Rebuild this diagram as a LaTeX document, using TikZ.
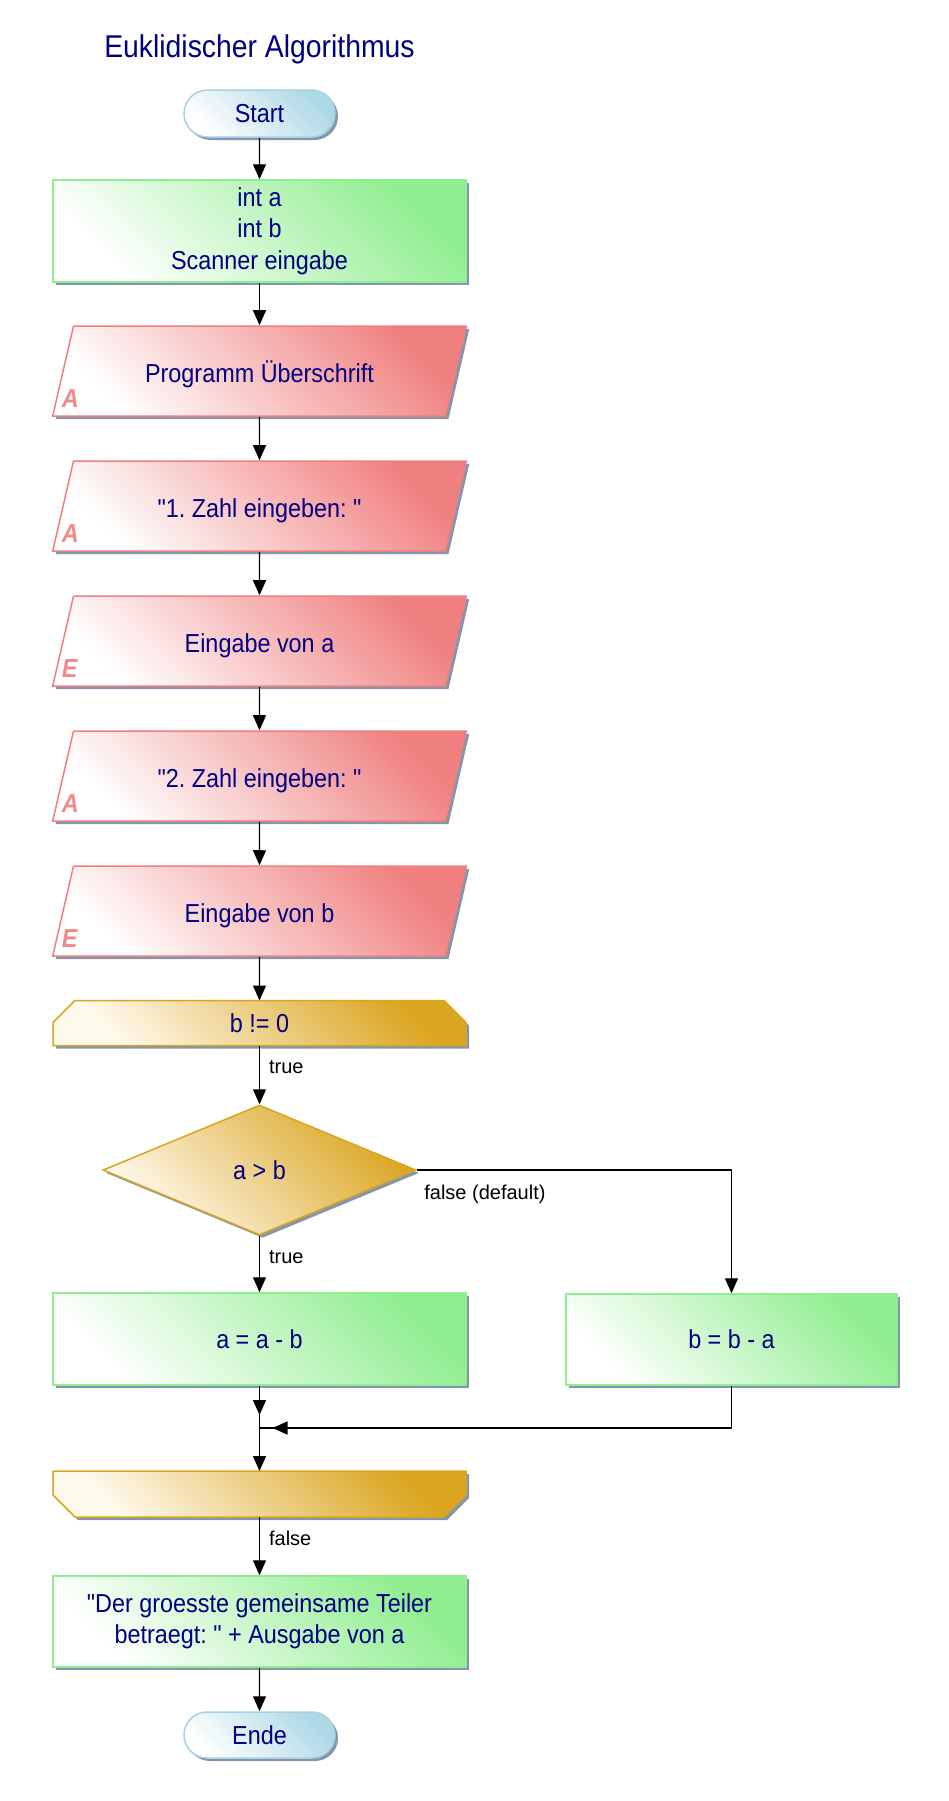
\documentclass[tikz,border=0pt]{standalone}
\usepackage{fontspec}
\setmainfont{Liberation Sans}[FakeStretch=0.9, Ligatures=TeXOff]
\newfontfamily\labelfont{Liberation Sans}[Ligatures=TeXOff]
\usepackage{tikz}
\usetikzlibrary{shapes.geometric, shapes.misc, shadows, arrows.meta, backgrounds}
\frenchspacing
\definecolor{txtblue}{HTML}{000080}
\definecolor{termfill}{HTML}{ADD8E6}
\definecolor{termline}{HTML}{A4D2E2}
\definecolor{procfill}{HTML}{90EE90}
\definecolor{iofill}{HTML}{F08080}
\definecolor{iotagcol}{HTML}{F08A8A}
\definecolor{loopfill}{HTML}{DAA520}
\definecolor{looplight}{HTML}{FFFAEE}
\definecolor{shadowcol}{HTML}{8496AC}
\newcommand{\boxfont}{\fontsize{26}{31.5}\selectfont}
\newcommand{\tagfont}{\fontsize{20}{24}\labelfont}

\tikzset{
  boxshadow/.style={drop shadow={shadow xshift=3pt, shadow yshift=-3pt, fill=shadowcol, opacity=1}},
  shapebase/.style={draw, line width=1.5pt, text=txtblue, font=\boxfont, align=center, inner sep=0pt, boxshadow},
  terminal/.style={shapebase, rounded rectangle, draw=termline, top color=white, bottom color=termfill,
    shading angle=135, minimum width=151pt, minimum height=47pt},
  process/.style={shapebase, rectangle, draw=procfill, top color=white, bottom color=procfill,
    shading angle=135, minimum width=413pt},
  inout/.style={shapebase, trapezium, trapezium left angle=77, trapezium right angle=103,
    draw=iofill, top color=white, bottom color=iofill, shading angle=135, align=flush center,
    text width=350pt, text height=26pt, text depth=4pt, inner xsep=11pt, inner ysep=30pt},
  whilenode/.style={rectangle, text=txtblue, font=\boxfont, inner sep=0pt, outer sep=0pt,
    minimum width=413pt, minimum height=45pt},
  loopshape/.style={draw=loopfill, line width=1.5pt, top color=looplight, bottom color=loopfill,
    shading angle=135, boxshadow},
  decision/.style={shapebase, diamond, aspect=2.4, draw=loopfill, top color=looplight,
    bottom color=loopfill, shading angle=135, minimum width=313pt, minimum height=130pt},
  iotag/.style={font=\fontsize{26}{30}\selectfont\bfseries\itshape, text=iotagcol, inner sep=0pt},
  caselabel/.style={font=\tagfont, text=black, anchor=west, inner sep=0pt, xshift=9pt},
  heading/.style={font=\fontsize{31.5}{37}\selectfont, text=txtblue, inner sep=0pt},
  flow/.style={line width=1.2pt, -{Triangle[length=15pt, width=13pt]}},
  tipbefore/.style={line width=1.2pt, postaction={draw, flow, shorten >=13pt}}
}

\begin{document}
\begin{tikzpicture}[x=1pt, y=-1pt]
    \useasboundingbox (0,0) rectangle (948,1801);
    \node[heading, anchor=base] (title) at (259.5, 58) {Euklidischer Algorithmus};
    \node[terminal] (start) at (259.5, 113.5) {Start};
    \node[process, minimum height=102pt] (decl) at (259.5, 231) {int a\\int b\\Scanner eingabe};
    \foreach \name/\ypos/\txt/\tag in {io1/371/Programm Überschrift/A, io2/506/"1. Zahl eingeben: "/A,
        io3/641/Eingabe von a/E, io4/776/"2. Zahl eingeben: "/A, io5/911/Eingabe von b/E} {
        \node[inout] (\name) at (259.5, \ypos) {\txt};
        \node[iotag, anchor=base west] at ([xshift=10pt, yshift=9pt]\name.bottom left corner) {\tag};
    }
    \node[whilenode] (whilestart) at (259.5, 1023) {b != 0};
    \node[decision] (cmp) at (259.5, 1170) {a > b};
    \node[process, minimum height=92pt] (aminusb) at (259.5, 1339) {a = a - b};
    \node[process, minimum width=331pt, minimum height=91pt] (bminusa) at (731.5, 1339.5) {b = b - a};
    \coordinate (merge) at (259.5, 1428);
    \node[whilenode, minimum height=46pt] (whileend) at (259.5, 1494) {};
    \node[process, minimum height=91pt] (output) at (259.5, 1621.5) {"Der groesste gemeinsame Teiler\\betraegt: " + Ausgabe von a};
    \node[terminal, minimum height=46pt] (ende) at (259.5, 1735) {Ende};

    % loop head and loop foot
    \begin{scope}[on background layer]
        \path[loopshape] (whilestart.south west) -- ([yshift=-22pt]whilestart.north west)
            -- ([xshift=22pt]whilestart.north west) -- ([xshift=-22pt]whilestart.north east)
            -- ([yshift=-22pt]whilestart.north east) -- (whilestart.south east) -- cycle;
        \path[loopshape] (whileend.north west) -- ([yshift=22pt]whileend.south west)
            -- ([xshift=22pt]whileend.south west) -- ([xshift=-22pt]whileend.south east)
            -- ([yshift=22pt]whileend.south east) -- (whileend.north east) -- cycle;
    \end{scope}

    \foreach \a/\b in {start/decl, decl/io1, io1/io2, io2/io3, io3/io4, io4/io5, io5/whilestart, output/ende}
        \draw[flow] (\a) -- (\b);
    \draw[flow] (whilestart) -- node[caselabel, pos=0.37] {true} (cmp);
    \draw[flow] (cmp) -- node[caselabel, pos=0.38] {true} (aminusb);
    \draw[flow] (cmp.east) -| node[caselabel, at start, anchor=north west, xshift=-2pt, yshift=-14pt] {false (default)} (bminusa.north);
    \draw[tipbefore] (aminusb) -- (merge);
    \draw[tipbefore] (bminusa) |- (merge);
    \draw[flow] (merge) -- (whileend);
    \draw[flow] (whileend) -- node[caselabel, pos=0.36] {false} (output);
\end{tikzpicture}
\end{document}
